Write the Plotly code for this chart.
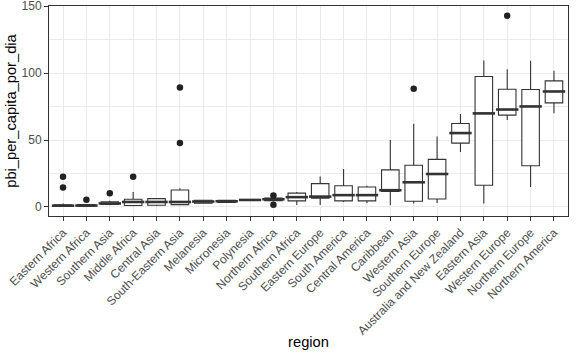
import plotly.graph_objects as go

regions = ["Eastern Africa", "Western Africa", "Southern Asia", "Middle Africa", "Central Asia",
           "South-Eastern Asia", "Melanesia", "Micronesia", "Polynesia", "Northern Africa",
           "Southern Africa", "Eastern Europe", "South America", "Central America", "Caribbean",
           "Western Asia", "Southern Europe", "Australia and New Zealand", "Eastern Asia",
           "Western Europe", "Northern Europe", "Northern America"]

lower = [0.3, 0.3, 1.2, 0.5, 0.7, 1.2, 2.5, 3.0, 5.0, 4.0, 1.5, 1.5, 3.7, 3.0, 1.2,
         2.5, 3.0, 41.0, 2.5, 64.9, 14.9, 70.1]
q1 = [0.6, 0.6, 1.8, 1.0, 1.2, 1.7, 2.8, 3.3, 5.0, 4.7, 4.5, 6.6, 4.5, 4.5, 11.5,
      4.2, 5.9, 47.7, 16.2, 68.6, 30.8, 77.8]
median = [0.9, 1.0, 2.6, 3.7, 3.7, 3.7, 4.0, 4.2, 5.2, 5.7, 7.3, 7.7, 8.8, 8.8, 12.5,
          18.4, 24.6, 55.2, 69.9, 72.8, 75.1, 86.3]
q3 = [1.5, 1.8, 3.8, 5.7, 6.2, 12.6, 5.0, 5.0, 5.4, 6.7, 10.3, 17.4, 15.8, 14.9, 27.7,
      31.1, 35.5, 62.4, 97.5, 88.0, 87.8, 94.2]
upper = [2.5, 2.2, 4.6, 11.2, 6.7, 13.9, 5.4, 5.3, 5.6, 7.2, 11.2, 22.8, 28.4, 15.9, 50.1,
         62.2, 52.7, 69.4, 109.4, 102.9, 109.2, 101.7]

outlier_region = ["Eastern Africa", "Eastern Africa", "Western Africa", "Southern Asia",
                  "Middle Africa", "South-Eastern Asia", "South-Eastern Asia",
                  "Northern Africa", "Northern Africa", "Western Asia", "Western Europe"]
outlier_value = [22.6, 14.6, 5.4, 10.2, 22.6, 89.3, 47.8, 8.6, 1.7, 88.3, 143.0]

y_ticks = [0, 50, 100, 150]

FONT = "Liberation Sans, Arial, sans-serif"
DARK = "#333333"
GRID = "#EBEBEB"

fig = go.Figure()
fig.add_trace(go.Box(
    x=regions, q1=q1, median=median, q3=q3, lowerfence=lower, upperfence=upper,
    fillcolor="white", line=dict(color=DARK, width=1.1), whiskerwidth=0,
    width=0.75, boxpoints=False, showlegend=False, hoverinfo="skip",
))
# thicker median line, as in ggplot
fig.add_trace(go.Scatter(
    x=regions, y=median, mode="markers",
    marker=dict(symbol="line-ew", size=16, line=dict(color=DARK, width=2.6)),
    showlegend=False, hoverinfo="skip",
))
fig.add_trace(go.Scatter(
    x=outlier_region, y=outlier_value, mode="markers",
    marker=dict(color="#222222", size=6.5),
    showlegend=False, hoverinfo="skip",
))

fig.update_layout(
    width=576, height=355,
    margin=dict(l=49, r=8, t=6, b=139, autoexpand=False),
    plot_bgcolor="white", paper_bgcolor="white",
    font=dict(family=FONT, color="black"),
)
fig.update_xaxes(
    type="category", categoryorder="array", categoryarray=regions,
    range=[-0.6, 21.6], automargin=False,
    showgrid=True, gridcolor=GRID, gridwidth=1,
    showline=True, mirror=True, linecolor=DARK, linewidth=1,
    ticks="outside", ticklen=4, tickcolor=DARK, tickwidth=1,
    tickangle=-45, tickfont=dict(size=12, color="#4D4D4D"),
    title=dict(text="region", font=dict(size=14.7, color="black"), standoff=0),
    zeroline=False, ticklabeloverflow="allow",
)
fig.update_yaxes(
    range=[-6.8, 150.2], automargin=False,
    tickvals=y_ticks, ticktext=[str(v) for v in y_ticks],
    showgrid=True, gridcolor=GRID, gridwidth=1,
    minor=dict(tickvals=[25, 75, 125], showgrid=True, gridcolor=GRID, gridwidth=0.6, ticks=""),
    showline=True, mirror=True, linecolor=DARK, linewidth=1,
    ticks="outside", ticklen=4, tickcolor=DARK, tickwidth=1,
    tickfont=dict(size=12, color="#4D4D4D"),
    title=dict(text="pbi_per_capita_por_dia", font=dict(size=14.7, color="black"), standoff=1),
    zeroline=False, ticklabeloverflow="allow",
)

fig.write_html("out.html", config={"displayModeBar": False},
               post_script="document.body.style.margin='0';")
